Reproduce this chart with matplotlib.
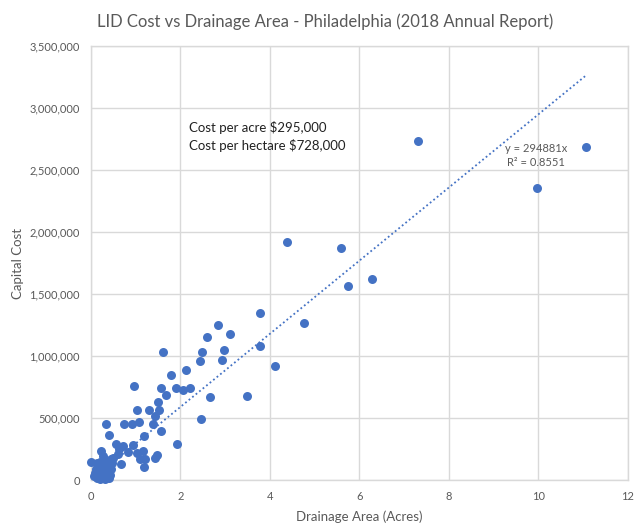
import matplotlib
matplotlib.use("Agg")
import matplotlib.pyplot as plt
from matplotlib.ticker import FuncFormatter, MultipleLocator
import numpy as np

plt.rcParams['font.family'] = ['Lato', 'DejaVu Sans']

# Drainage area (acres) and capital cost ($)
area_acres = [
    11.07, 9.98, 7.31, 6.29, 5.75, 5.58, 4.39, 4.77, 3.79, 2.85,
    3.12, 2.585, 3.78, 4.11, 1.62, 2.49, 2.97, 2.44, 2.94, 2.12,
    1.78, 0.96, 1.56, 1.91, 2.06, 2.21, 1.68, 2.66, 3.50, 1.50,
    1.04, 1.29, 1.53, 1.43, 2.47, 0.34, 0.75, 0.93, 1.08, 1.39,
    1.56, 0.40, 1.18, 1.93, 0.57, 0.71, 0.94, 0.63, 0.83, 0.23,
    1.04, 1.16, 0.60, 0.27, 0.46, 1.10, 1.21, 1.47, 1.44, 0.01,
    0.48, 0.67, 1.19, 0.29, 0.50,
    0.08, 0.10, 0.12, 0.14, 0.15, 0.17, 0.19, 0.20, 0.22, 0.24,
    0.25, 0.27, 0.28, 0.30, 0.31, 0.33, 0.34, 0.36, 0.38, 0.40,
    0.42, 0.44, 0.20, 0.13, 0.35,
]
capital_cost = [
    2682000, 2355000, 2736000, 1623000, 1569000, 1872000, 1923000, 1269000, 1346000, 1247000,
    1180000, 1155000, 1080000, 920000, 1030000, 1030000, 1050000, 960000, 970000, 885000,
    845000, 756000, 743000, 743000, 724000, 743000, 690000, 670000, 680000, 633000,
    569000, 563000, 563000, 515000, 496000, 456000, 456000, 456000, 470000, 456000,
    397000, 360000, 352000, 295000, 290000, 276000, 280000, 249000, 228000, 236000,
    215000, 232000, 207000, 193000, 174000, 174000, 168000, 200000, 176000, 145000,
    134000, 126000, 107000, 160000, 180000,
    30000, 60000, 90000, 20000, 50000, 110000, 75000, 10000, 40000, 130000,
    65000, 25000, 95000, 50000, 5000, 80000, 35000, 115000, 60000, 15000,
    45000, 90000, 150000, 140000, 150000,
]

trend_slope = 294881
r_squared = "0.8551"
title = "LID Cost vs Drainage Area - Philadelphia (2018 Annual Report)"
x_label = "Drainage Area (Acres)"
y_label = "Capital Cost"
note_lines = ["Cost per acre $295,000", "Cost per hectare $728,000"]

blue = "#4472C4"
grid_c = "#D9D9D9"
text_c = "#595959"

fig = plt.figure(figsize=(6.4, 5.23), dpi=100)
ax = fig.add_axes([0.142, 0.082, 0.839, 0.830])

ax.scatter(area_acres, capital_cost, s=42, color=blue, zorder=3, linewidths=0, clip_on=False)

xs = np.array([0, max(area_acres)])
ax.plot(xs, trend_slope * xs, linestyle=(0, (1, 1.5)), color=blue, linewidth=1.3, zorder=2)

ax.set_xlim(0, 12)
ax.set_ylim(0, 3500000)
ax.xaxis.set_major_locator(MultipleLocator(2))
ax.yaxis.set_major_locator(MultipleLocator(500000))
ax.yaxis.set_major_formatter(FuncFormatter(lambda v, p: f"{int(v):,}"))
ax.grid(True, color=grid_c, linewidth=1, zorder=0)
ax.set_axisbelow(True)
for s in ax.spines.values():
    s.set_color(grid_c)
    s.set_linewidth(1)
ax.tick_params(length=0, colors=text_c, labelsize=8, pad=8)

ax.set_xlabel(x_label, color=text_c, fontsize=9.5, labelpad=6)
ax.set_ylabel(y_label, color=text_c, fontsize=9.5, labelpad=4)
fig.suptitle(title, x=0.508, y=0.975, color=text_c, fontsize=12)

ax.text(2.2, 2845000, note_lines[0], fontsize=9.5, color="#222222", va="center")
ax.text(2.2, 2700000, note_lines[1], fontsize=9.5, color="#222222", va="center")

ax.text(9.25, 2670000, f"y = {trend_slope}x", fontsize=8, color=text_c, va="center")
ax.text(9.3, 2560000, f"R\u00b2 = {r_squared}", fontsize=8, color=text_c, va="center")

fig.savefig("out.png", dpi=100)
